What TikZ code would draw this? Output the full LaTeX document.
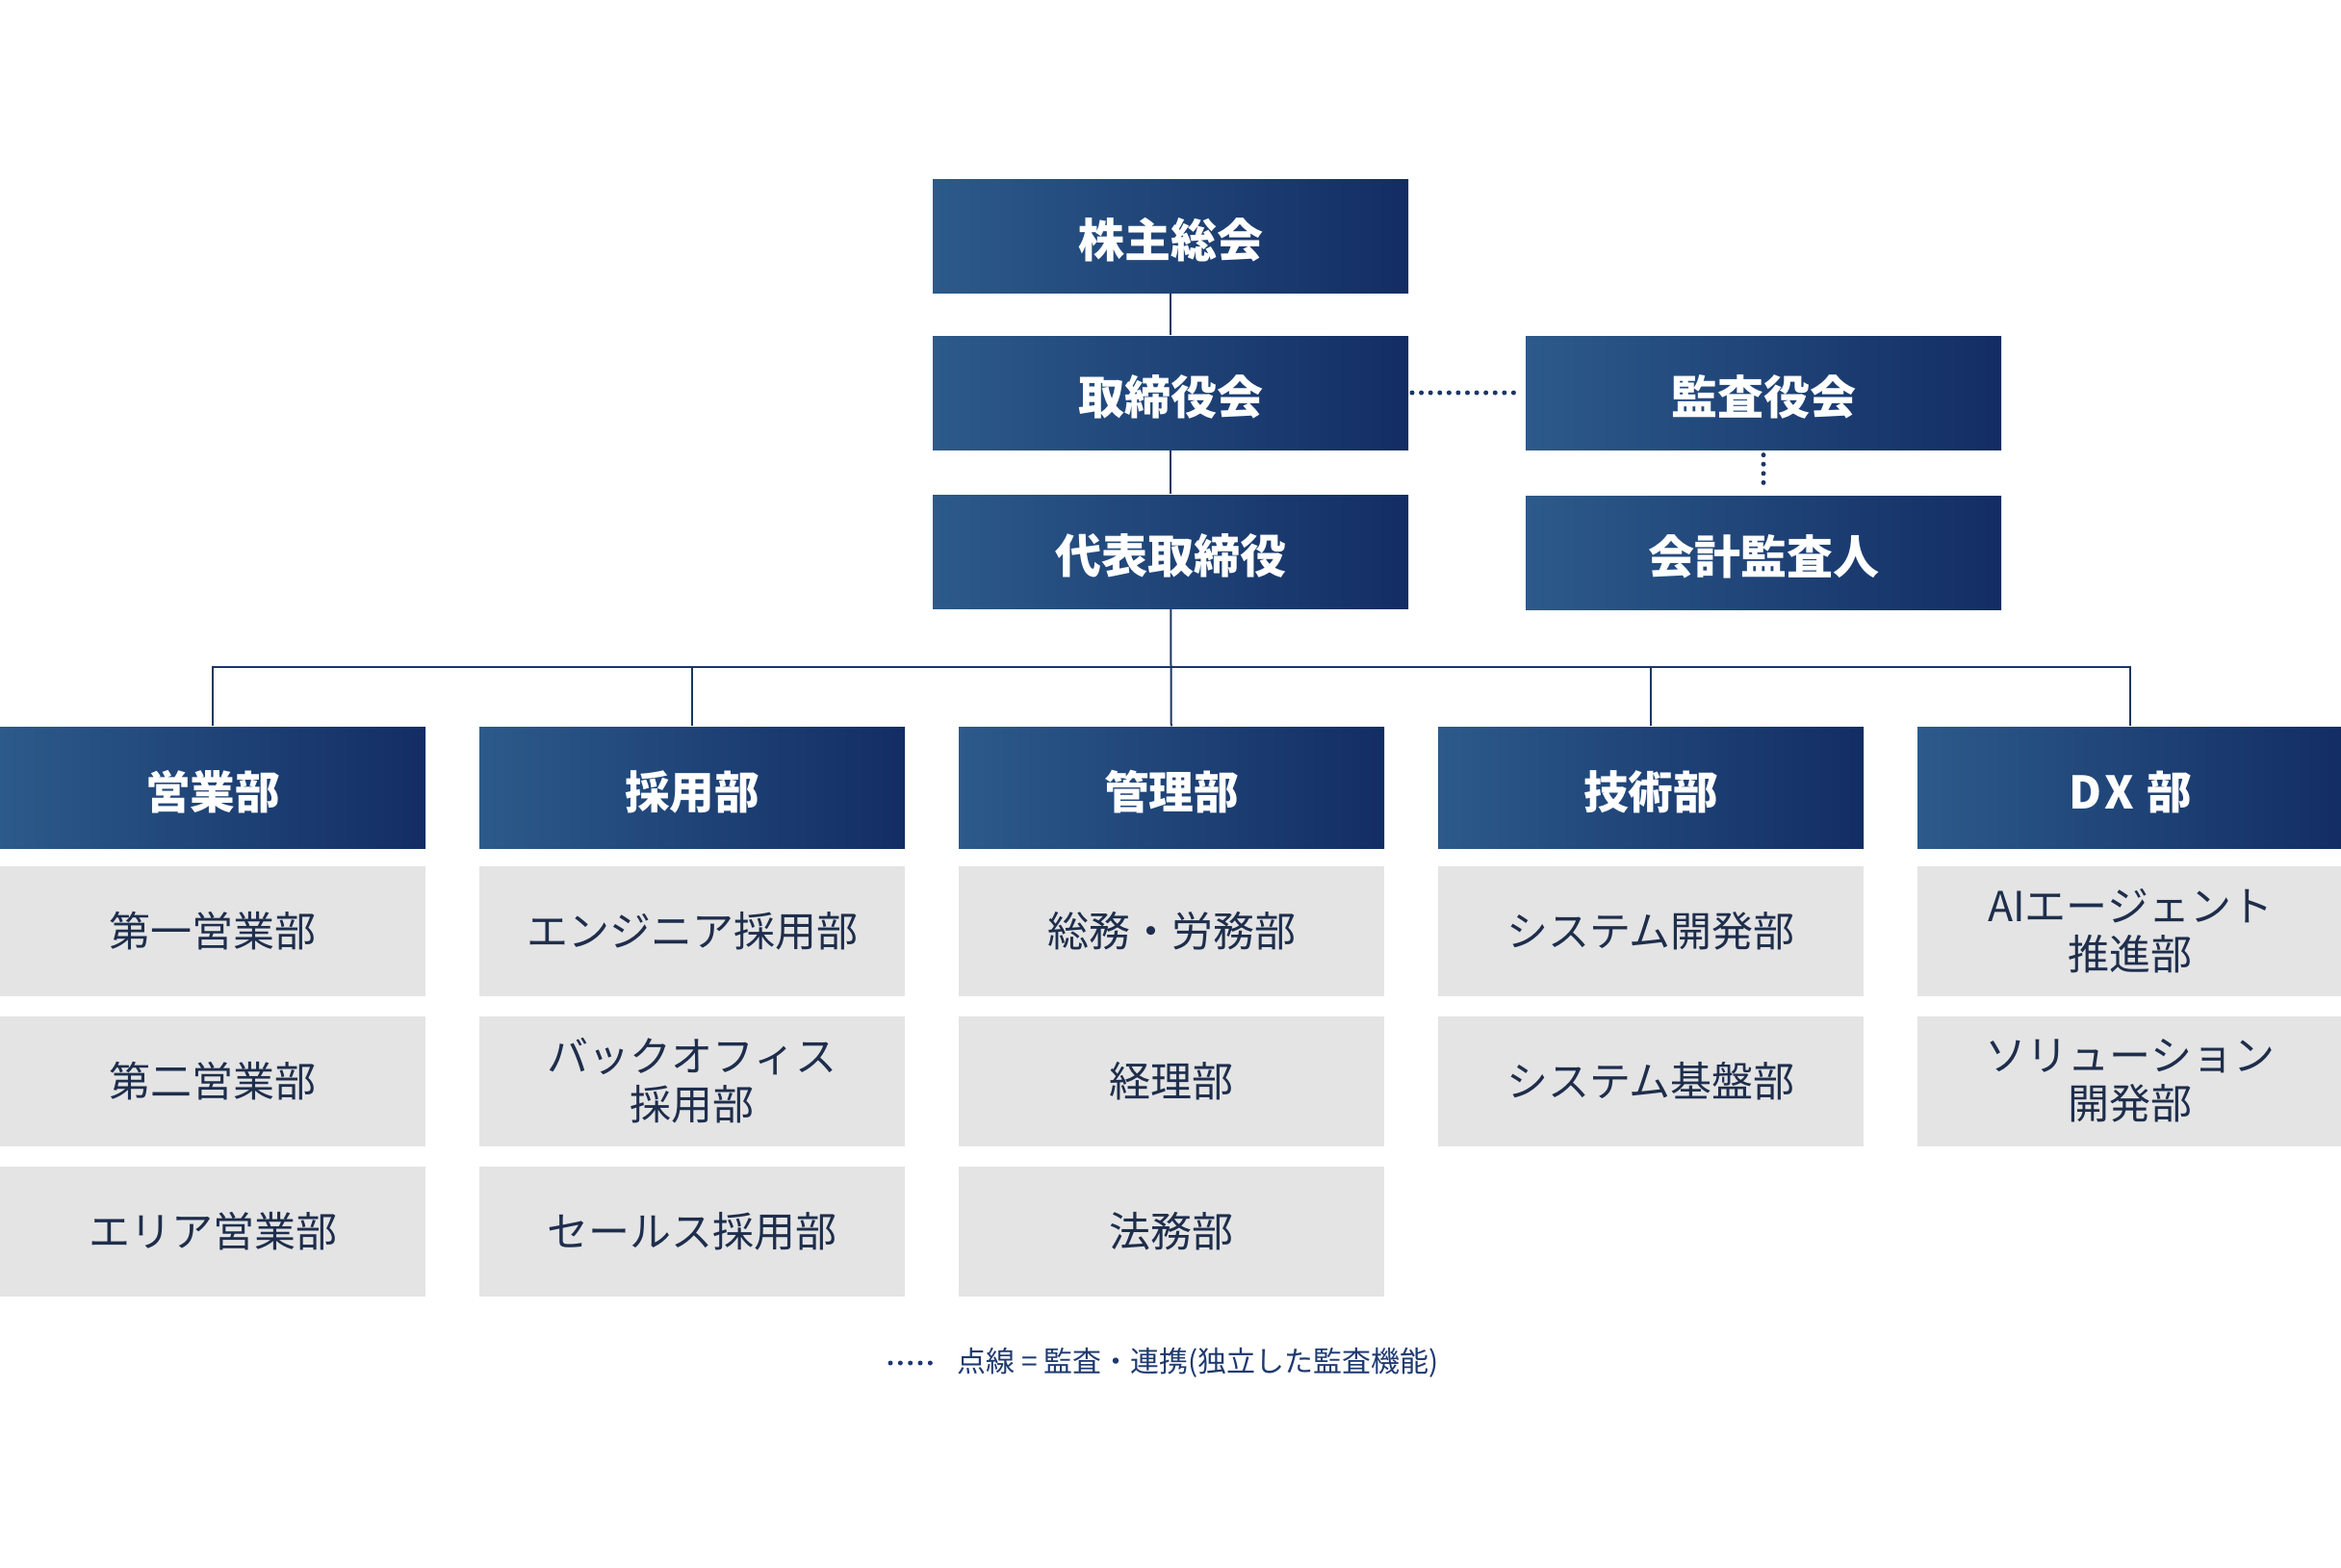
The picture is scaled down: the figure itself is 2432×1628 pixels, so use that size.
\documentclass[tikz,border=0pt]{standalone}
\usepackage{fontspec}
\setmainfont{Noto Sans CJK JP}
\definecolor{navyL}{HTML}{2C5A8A}
\definecolor{navyR}{HTML}{132D64}
\definecolor{lineC}{HTML}{1B3764}
\definecolor{boxG}{HTML}{E4E4E4}
\definecolor{txtC}{HTML}{1E2E4C}
\definecolor{legC}{HTML}{1F3A70}
\begin{document}
\begin{tikzpicture}[x=0.3pt,y=-0.3pt,
  head/.style={left color=navyL, right color=navyR, text=white,
    font=\fontsize{14.4}{17}\selectfont\bfseries, text height=15pt, text depth=1.4pt,
    minimum width=148.2pt, minimum height=35.4pt, inner sep=0pt},
  dept/.style={head, minimum width=132.6pt, minimum height=37.8pt,
    font=\fontsize{14}{17}\selectfont\bfseries},
  sub/.style={fill=boxG, text=txtC, minimum width=132.6pt, minimum height=40.5pt,
    inner sep=0pt, align=center, font=\fontsize{12.9}{15}\selectfont},
  link/.style={draw=lineC, line width=0.6pt},
  audit/.style={draw=lineC, line width=1.5pt, line cap=round, dash pattern=on 0pt off 2.875pt}]
  \useasboundingbox (0,0) rectangle (2432,1628);
  % Governance
  \node[head] (sh)  at (1216,245) {株主総会};
  \node[head] (bd)  at (1216,408) {取締役会};
  \node[head] (rep) at (1216,573) {代表取締役};
  \node[head] (kan) at (1832,408) {監査役会};
  \node[head] (acc) at (1832,574) {会計監査人};
  \draw[link] (sh) -- (bd);
  \draw[link] (bd) -- (rep);
  \draw[audit] ([xshift=1pt]bd.east) -- ([xshift=-1pt]kan.west);
  \draw[audit] ([yshift=-1.5pt]kan.south) -- ([yshift=1.5pt]acc.north);
  % Departments
  \foreach \i/\name in {1/営業部, 2/採用部, 3/管理部, 4/技術部, 5/{D\hspace{1pt}X\hspace{4pt}部}}
    \node[dept] (d\i) at ({221+498*(\i-1)},818) {\name};
  \coordinate (bar) at (1216,693);
  \draw[link] (rep) -- (d3);
  \foreach \i in {1,2,4,5}
    \draw[link] (d\i.north) |- (bar);
  % Sections
  \foreach \i/\j/\lbl in
    {1/1/第一営業部, 1/2/第二営業部, 1/3/エリア営業部,
     2/1/エンジニア採用部, 2/2/{バックオフィス\\採用部}, 2/3/セールス採用部,
     3/1/総務・労務部, 3/2/経理部, 3/3/法務部,
     4/1/システム開発部, 4/2/システム基盤部,
     5/1/{AIエージェント\\推進部}, 5/2/{ソリューション\\開発部}}
    \node[sub] (s\i\j) at ({221+498*(\i-1)},{967+156*(\j-1)}) {\lbl};
  % Legend
  \coordinate (legA) at (925,1416);
  \coordinate (legB) at (967,1416);
  \draw[draw=legC, line width=1.5pt, line cap=round, dash pattern=on 0pt off 3.1pt] (legA) -- (legB);
  \node[anchor=west, text=legC, font=\fontsize{9}{11}\selectfont, inner sep=0pt] (leg) at (994,1416)
    {点線 = 監査・連携(独立した監査機能)};
\end{tikzpicture}
\end{document}
